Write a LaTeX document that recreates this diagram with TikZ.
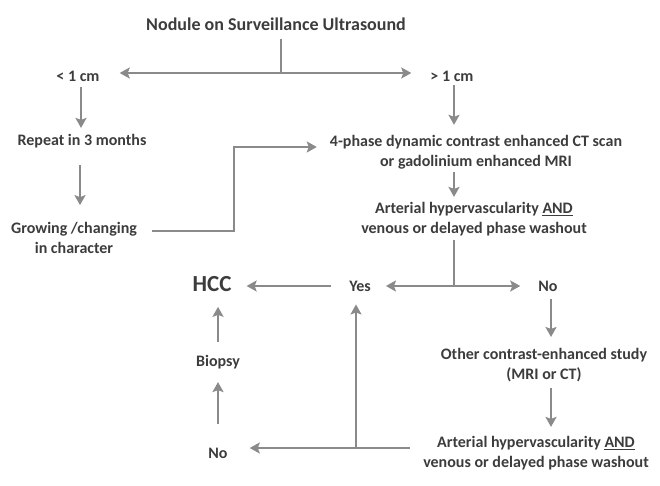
\documentclass[tikz,border=0pt]{standalone}
\usepackage{fontspec}
\setmainfont{Carlito}
\usetikzlibrary{arrows.meta, positioning}

\definecolor{txtgray}{HTML}{3C3C3C}
\definecolor{arrgray}{HTML}{8A8A8A}

\begin{document}
\begin{tikzpicture}[
    x=1pt, y=-1pt,
    txt/.style={font=\fontsize{16}{20}\selectfont\bfseries, text=txtgray, inner sep=0pt, align=center},
    big/.style={txt, font=\fontsize{23}{26}\selectfont\bfseries},
    line/.style={draw=arrgray, line width=2.6pt},
    arr/.style={line, -{Stealth[length=10pt, width=11pt, inset=2pt]}}
]
    \useasboundingbox (0,0) rectangle (660,486);

    % Top
    \node[txt, font=\fontsize{18}{22}\selectfont\bfseries] (title) at (276,24) {Nodule on Surveillance Ultrasound};
    \coordinate (j1) at (281,73);
    \node[txt] (lt) at (78,76) {< 1 cm};
    \node[txt] (gt) at (452,76) {> 1 cm};

    % Left branch
    \node[txt] (repeat) at (82,141) {Repeat in 3 months};
    \node[txt] (grow) at (74,238) {Growing /changing\\in character};

    % Right branch
    \node[txt] (ct) at (476,152) {4-phase dynamic contrast enhanced CT scan\\or gadolinium enhanced MRI};
    \node[txt] (art1) at (474,219) {Arterial hypervascularity \underline{AND}\\venous or delayed phase washout};
    \coordinate (j2) at (454,286);
    \node[txt] (yes) at (360,286) {Yes};
    \node[txt] (no1) at (548,286) {No};
    \node[big] (hcc) at (212,284) {HCC};

    % Second study
    \node[txt] (other) at (544,365) {Other contrast-enhanced study\\(MRI or CT)};
    \node[txt] (art2) at (536,453) {Arterial hypervascularity \underline{AND}\\venous or delayed phase washout};
    \coordinate (j3) at (356,448);
    \node[txt] (biopsy) at (218,362) {Biopsy};
    \node[txt] (no2) at (218,453) {No};
    \coordinate (bend) at (234,231);

    % Connectors
    \draw[line, shorten <=8pt] (title.south -| j1) -- (j1);
    \draw[arr, shorten >=20pt] (j1) -- (lt.east |- j1);
    \draw[arr, shorten >=19pt] (j1) -- (gt.west |- j1);
    \draw[arr, shorten <=6pt, shorten >=6pt] (lt.south) ++(3,0) coordinate (lts) -- (lts |- repeat.north);
    \draw[arr, shorten <=4pt, shorten >=10pt] (gt.south) ++(2,0) coordinate (gts) -- (gts |- ct.north);
    \draw[arr, shorten <=17pt, shorten >=17pt] (repeat.south) ++(-2,0) coordinate (rps) -- (rps |- grow.north);
    \draw[arr, shorten >=13pt] ([xshift=15pt]grow.east |- bend) -- (bend) |- ([yshift=5pt]ct.west);
    \draw[arr, shorten <=3pt, shorten >=5pt] (gts |- ct.south) -- (gts |- art1.north);
    \draw[line, shorten <=4pt] (j2 |- art1.south) -- (j2);
    \draw[arr, shorten >=15pt] (j2) -- (yes.east |- j2);
    \draw[arr, shorten >=18pt] (j2) -- (no1.west |- j2);
    \draw[arr, shorten <=18pt, shorten >=15pt] (yes.west) -- (hcc.east |- yes.west);
    \draw[arr, shorten <=13pt, shorten >=15pt] (biopsy.north) -- (biopsy.north |- hcc.south);
    \draw[arr, shorten <=24pt, shorten >=13pt] (no2.north) -- (biopsy.south);
    \draw[arr, shorten <=8pt, shorten >=11pt] ([xshift=3pt]no1.south) -- ([xshift=3pt]no1.south |- other.north);
    \draw[arr, shorten <=6pt, shorten >=9pt] ([xshift=3pt]no1.south |- other.south) -- ([xshift=3pt]no1.south |- art2.north);
    \draw[arr, shorten <=13pt, shorten >=22pt] (art2.west |- j3) -- (no2.east |- j3);
    \draw[arr, shorten >=13pt] (j3) -- (yes.south -| j3);
\end{tikzpicture}
\end{document}
